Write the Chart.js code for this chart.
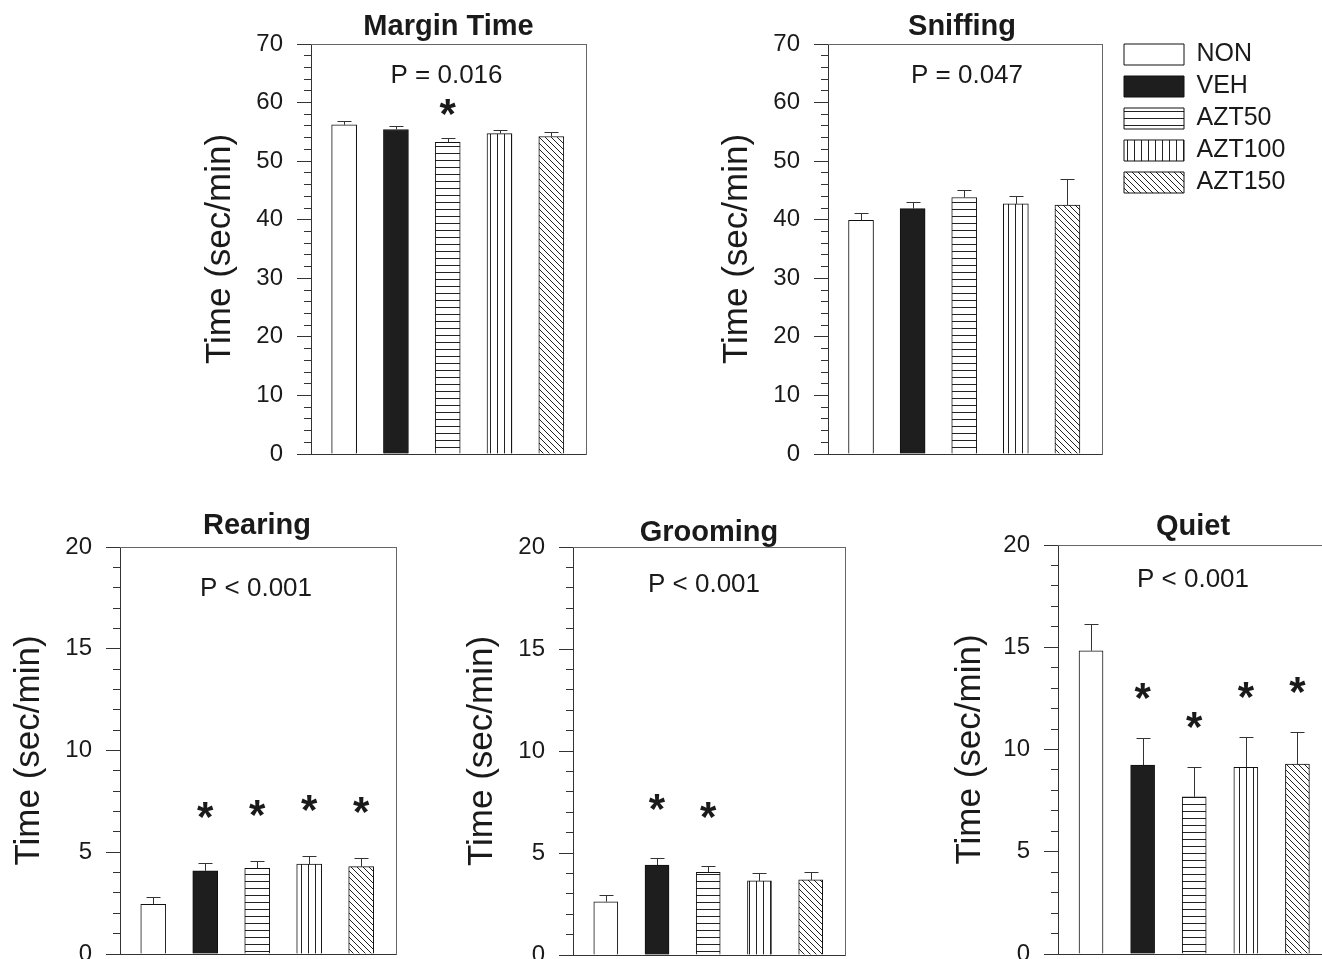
<!DOCTYPE html>
<html>
<head>
<meta charset="utf-8">
<script src="https://cdn.jsdelivr.net/npm/chart.js@4"></script>
<style>
body { margin: 0; background: #fff; overflow: hidden; }
canvas { position: absolute; left: 0; top: 0; }
</style>
</head>
<body>
<canvas id="margin" width="1340" height="1000"></canvas>
<canvas id="sniff" width="1340" height="1000"></canvas>
<canvas id="rear" width="1340" height="1000"></canvas>
<canvas id="groom" width="1340" height="1000"></canvas>
<canvas id="quiet" width="1340" height="1000"></canvas>
<script>
var categories = ["NON", "VEH", "AZT50", "AZT100", "AZT150"];

var marginMean = [56.2, 55.4, 53.2, 54.7, 54.2];
var marginSem  = [0.7, 0.6, 0.8, 0.7, 0.8];
var marginSig  = [0, 0, 1, 0, 0];

var sniffMean = [39.9, 41.9, 43.8, 42.7, 42.5];
var sniffSem  = [1.3, 1.2, 1.3, 1.3, 4.4];
var sniffSig  = [0, 0, 0, 0, 0];

var rearMean = [2.44, 4.09, 4.21, 4.42, 4.29];
var rearSem  = [0.34, 0.36, 0.37, 0.39, 0.41];
var rearSig  = [0, 1, 1, 1, 1];

var groomMean = [2.61, 4.41, 4.05, 3.63, 3.68];
var groomSem  = [0.33, 0.36, 0.33, 0.37, 0.37];
var groomSig  = [0, 1, 1, 0, 0];

var quietMean = [14.83, 9.24, 7.69, 9.13, 9.29];
var quietSem  = [1.31, 1.34, 1.47, 1.50, 1.55];
var quietSig  = [0, 1, 1, 1, 1];

var FONT = '"Liberation Sans", Arial, sans-serif';
var INK = "#1a1a1a";
var CW = 1340, CH = 1000;

Chart.defaults.font.family = FONT;
Chart.defaults.color = INK;

// fill patterns for the five groups
function makePattern(kind, s)
{
	var c = document.createElement("canvas");
	c.width = s; c.height = s;
	var g = c.getContext("2d");
	g.fillStyle = "#fff";
	g.fillRect(0, 0, s, s);
	g.strokeStyle = "#222";
	g.lineWidth = 1;
	g.beginPath();
	if (kind == "h") {
		g.moveTo(0, s - 0.5); g.lineTo(s, s - 0.5);
	} else if (kind == "v") {
		g.moveTo(0.5, 0); g.lineTo(0.5, s);
	} else {
		g.moveTo(0, 0); g.lineTo(s, s);
		g.moveTo(-1, s - 1); g.lineTo(1, s + 1);
		g.moveTo(s - 1, -1); g.lineTo(s + 1, 1);
	}
	g.stroke();
	return c.getContext("2d").createPattern(c, "repeat");
}

var fills = ["#ffffff", "#1e1e1e", makePattern("h", 7), makePattern("v", 7), makePattern("d", 6)];

// error bars, titles, p values and stars
var panelText = {
	id: "panelText",
	afterDatasetsDraw: function(chart, args, opts)
	{
		var ctx = chart.ctx;
		var ys = chart.scales.y;
		ctx.save();
		ctx.strokeStyle = "#333";
		ctx.lineWidth = 1;
		for (var i = 0; i < chart.data.datasets.length; i++) {
			var bar = chart.getDatasetMeta(i).data[0];
			var top = ys.getPixelForValue(opts.mean[i] + opts.sem[i]);
			var x = Math.round(bar.x) + 0.5;
			ctx.beginPath();
			ctx.moveTo(x, bar.y);
			ctx.lineTo(x, Math.round(top) + 0.5);
			ctx.moveTo(x - 7, Math.round(top) + 0.5);
			ctx.lineTo(x + 7, Math.round(top) + 0.5);
			ctx.stroke();
			if (opts.sig[i]) {
				ctx.font = "bold 42px " + FONT;
				ctx.fillStyle = INK;
				ctx.textAlign = "center";
				ctx.textBaseline = "alphabetic";
				var m = ctx.measureText("*");
				var cy = top - opts.starGap;
				ctx.fillText("*", bar.x, cy + (m.actualBoundingBoxAscent - m.actualBoundingBoxDescent) / 2);
			}
		}
		var a = chart.chartArea;
		var cx = (a.left + a.right) / 2;
		ctx.fillStyle = INK;
		ctx.textAlign = "center";
		ctx.textBaseline = "alphabetic";
		ctx.font = "bold 29px " + FONT;
		ctx.fillText(opts.title, cx + opts.titleDx, a.top + opts.titleDy);
		ctx.font = "26px " + FONT;
		ctx.fillText(opts.p, cx + opts.pDx, a.top + opts.pDy);
		ctx.restore();
	}
};

function drawPanel(id, cfg)
{
	var datasets = [];
	for (var k = 0; k < categories.length; k++) {
		datasets.push({
			label: categories[k],
			data: [{x: k, y: cfg.mean[k]}],
			backgroundColor: fills[k],
			borderColor: "#111",
			borderWidth: 1,
			barThickness: cfg.barWidth,
			grouped: false,
			xAxisID: "x",
			yAxisID: "y"
		});
	}
	var legendW = cfg.legend ? 170 : 0;
	new Chart(id, {
		type: "bar",
		data: { datasets: datasets },
		options: {
			responsive: false,
			animation: false,
			events: [],
			layout: {
				padding: {
					left: cfg.left - cfg.yWidth,
					top: cfg.top - cfg.topGap,
					right: CW - cfg.right - cfg.rightGap - legendW,
					bottom: CH - cfg.bottom
				}
			},
			scales: {
				x: {
					type: "linear", position: "bottom", min: -0.64, max: 4.67,
					offset: false, bounds: "data",
					grid: { display: false, offset: false },
					ticks: { display: false, stepSize: 1 },
					border: { color: "#333", width: 1 },
					afterFit: function(s) { s.height = 0; }
				},
				y: {
					min: 0, max: cfg.yMax,
					border: { color: "#333", width: 1 },
					grid: {
						drawOnChartArea: false, tickLength: 14, tickColor: "#333",
						tickBorderDash: function(c) { return (c.tick && c.tick.value % cfg.major != 0) ? [0, 7, 20] : []; }
					},
					ticks: {
						stepSize: cfg.minor, autoSkip: false, padding: 14, font: { size: 24 }, color: INK,
						callback: function(v) { return v % cfg.major == 0 ? v : ""; }
					},
					title: { display: true, text: "Time (sec/min)", font: { size: 35 }, padding: 0, color: INK },
					afterFit: function(s) { s.width = cfg.yWidth; }
				},
				xTop: {
					type: "linear", position: "top", min: 0, max: 1,
					grid: { display: false }, ticks: { display: false },
					border: { color: "#666", width: 1 },
					afterFit: function(s) { s.height = cfg.topGap; }
				},
				yRight: {
					type: "linear", position: "right", min: 0, max: 1,
					grid: { display: false }, ticks: { display: false },
					border: { color: "#666", width: 1 },
					afterFit: function(s) { s.width = cfg.rightGap; }
				}
			},
			plugins: {
				tooltip: { enabled: false },
				legend: {
					display: !!cfg.legend,
					position: "right",
					align: "start",
					maxWidth: legendW,
					labels: { boxWidth: 60, boxHeight: 21, padding: 7, font: { size: 25 }, color: INK }
				},
				panelText: {
					mean: cfg.mean, sem: cfg.sem, sig: cfg.sig, starGap: cfg.starGap,
					title: cfg.title, titleDx: cfg.titleDx, titleDy: cfg.titleDy,
					p: cfg.p, pDx: cfg.pDx, pDy: cfg.pDy
				}
			}
		},
		plugins: [panelText]
	});
}

drawPanel("margin", {
	mean: marginMean, sem: marginSem, sig: marginSig, title: "Margin Time", p: "P = 0.016",
	left: 311, right: 586, top: 44, bottom: 454, yMax: 70, major: 10, minor: 2,
	yWidth: 112, topGap: 0, rightGap: 0, barWidth: 25, starGap: 31,
	titleDx: 0, titleDy: -9, pDx: -2, pDy: 39
});
drawPanel("sniff", {
	mean: sniffMean, sem: sniffSem, sig: sniffSig, title: "Sniffing", p: "P = 0.047", legend: true,
	left: 828, right: 1102, top: 44, bottom: 454, yMax: 70, major: 10, minor: 2,
	yWidth: 112, topGap: 9, rightGap: 15, barWidth: 25, starGap: 31,
	titleDx: -3, titleDy: -9, pDx: 2, pDy: 39
});
drawPanel("rear", {
	mean: rearMean, sem: rearSem, sig: rearSig, title: "Rearing", p: "P < 0.001",
	left: 120, right: 396, top: 547, bottom: 954, yMax: 20, major: 5, minor: 1,
	yWidth: 112, topGap: 0, rightGap: 0, barWidth: 25, starGap: 53,
	titleDx: -1, titleDy: -13, pDx: -2, pDy: 49
});
drawPanel("groom", {
	mean: groomMean, sem: groomSem, sig: groomSig, title: "Grooming", p: "P < 0.001",
	left: 573, right: 845, top: 547, bottom: 955, yMax: 20, major: 5, minor: 1,
	yWidth: 112, topGap: 0, rightGap: 0, barWidth: 24, starGap: 56,
	titleDx: 0, titleDy: -6, pDx: -5, pDy: 45
});
drawPanel("quiet", {
	mean: quietMean, sem: quietSem, sig: quietSig, title: "Quiet", p: "P < 0.001",
	left: 1058, right: 1332, top: 545, bottom: 954, yMax: 20, major: 5, minor: 1,
	yWidth: 109, topGap: 0, rightGap: 0, barWidth: 24, starGap: 47,
	titleDx: -2, titleDy: -10, pDx: -2, pDy: 42
});
</script>
</body>
</html>
